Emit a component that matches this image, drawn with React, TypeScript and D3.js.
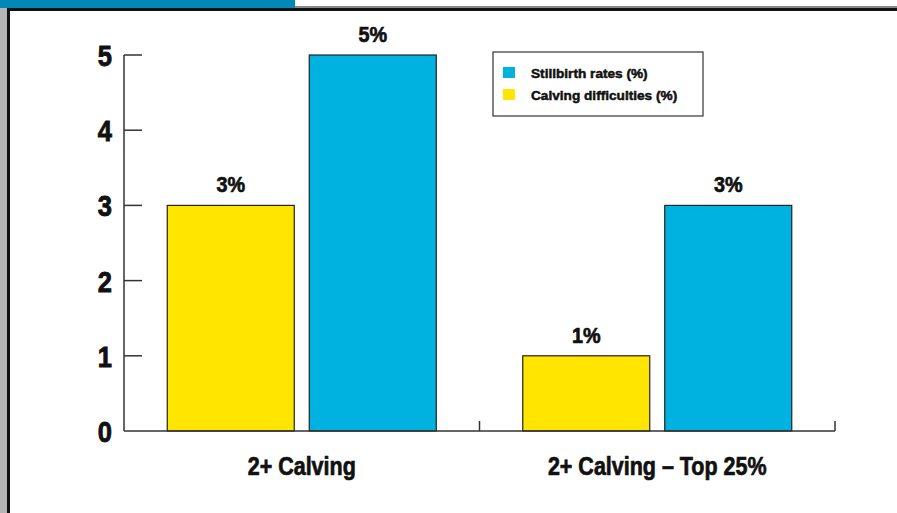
import React, { useRef, useEffect } from "react";
import * as d3 from "d3";

const categories = ["2+ Calving", "2+ Calving – Top 25%"];
const seriesNames = ["Calving difficulties (%)", "Stillbirth rates (%)"];
const calvingDifficulties = [3, 1];
const stillbirthRates = [5, 3];
const yTicks = [0, 1, 2, 3, 4, 5];
const legendOrder = ["Stillbirth rates (%)", "Calving difficulties (%)"];

const colors: Record<string, string> = {
  "Calving difficulties (%)": "#ffe500",
  "Stillbirth rates (%)": "#00b2e0",
};

const FONT = "'Liberation Sans', Arial, sans-serif";

const App: React.FC = () => {
  const width = 897;
  const height = 513;
  const svg = useRef<SVGSVGElement>(null);

  useEffect(() => {
    const s = d3.select(svg.current);
    s.selectAll("*").remove();
    s.attr("width", width).attr("height", height);

    // page frame: grey strip on the left, blue tab on top, black rules
    s.append("rect").attr("width", width).attr("height", height).attr("fill", "#fff");
    s.append("rect").attr("x", 0).attr("y", 0).attr("width", 7).attr("height", height).attr("fill", "#b5b5b5");
    s.append("rect").attr("x", 0).attr("y", 6).attr("width", width).attr("height", 2).attr("fill", "#8a8a8a");
    s.append("rect").attr("x", 0).attr("y", 0).attr("width", 295).attr("height", 8).attr("fill", "#0088b8");
    s.append("rect").attr("x", 7).attr("y", 8).attr("width", width - 7).attr("height", 3).attr("fill", "#111");
    s.append("rect").attr("x", 7).attr("y", 8).attr("width", 3).attr("height", height).attr("fill", "#111");

    const table = categories.map((c, i) => ({
      category: c,
      values: [
        { key: seriesNames[0], value: calvingDifficulties[i] },
        { key: seriesNames[1], value: stillbirthRates[i] },
      ],
    }));

    const x0 = d3.scaleBand<string>().domain(categories).range([124, 835]);
    const x1 = d3
      .scaleBand<string>()
      .domain(seriesNames)
      .range([0, x0.bandwidth()])
      .paddingInner(0.1056)
      .paddingOuter(0.3046);
    const y = d3.scaleLinear().domain([0, 5]).range([431, 55]);

    const g = s.append("g");

    // y axis with ticks pointing into the plot
    g.append("line")
      .attr("x1", 124).attr("x2", 124)
      .attr("y1", y(5)).attr("y2", y(0))
      .attr("stroke", "#333").attr("stroke-width", 1.5);
    g.selectAll("line.ytick")
      .data(yTicks.filter((t) => t > 0))
      .join("line")
      .attr("class", "ytick")
      .attr("x1", 124).attr("x2", 142)
      .attr("y1", (d) => y(d)).attr("y2", (d) => y(d))
      .attr("stroke", "#333").attr("stroke-width", 1.5);
    g.selectAll("text.ylab")
      .data(yTicks)
      .join("text")
      .attr("class", "ylab")
      .attr("transform", (d) => `translate(112,${y(d) + 11}) scale(0.85,1)`)
      .attr("text-anchor", "end")
      .attr("font-family", FONT)
      .attr("font-weight", "bold")
      .attr("font-size", 30)
      .attr("fill", "#111")
      .attr("stroke", "#111")
      .attr("stroke-width", 0.9)
      .text((d) => d);

    // bars
    const groups = g
      .selectAll("g.group")
      .data(table)
      .join("g")
      .attr("class", "group")
      .attr("transform", (d) => `translate(${x0(d.category)},0)`);

    groups
      .selectAll("rect")
      .data((d) => d.values)
      .join("rect")
      .attr("x", (d) => x1(d.key)!)
      .attr("y", (d) => y(d.value))
      .attr("width", x1.bandwidth())
      .attr("height", (d) => y(0) - y(d.value))
      .attr("fill", (d) => colors[d.key])
      .attr("stroke", "#222")
      .attr("stroke-width", 1.2);

    groups
      .selectAll("text")
      .data((d) => d.values)
      .join("text")
      .attr(
        "transform",
        (d) => `translate(${x1(d.key)! + x1.bandwidth() / 2},${y(d.value) - 13}) scale(0.9,1)`
      )
      .attr("text-anchor", "middle")
      .attr("font-family", FONT)
      .attr("font-weight", "bold")
      .attr("font-size", 22)
      .attr("fill", "#111")
      .attr("stroke", "#111")
      .attr("stroke-width", 0.7)
      .text((d) => `${d.value}%`);

    // x axis baseline and upward ticks at group boundaries
    g.append("line")
      .attr("x1", 124).attr("x2", 835)
      .attr("y1", y(0)).attr("y2", y(0))
      .attr("stroke", "#333").attr("stroke-width", 1.5);
    g.selectAll("line.xtick")
      .data(categories)
      .join("line")
      .attr("class", "xtick")
      .attr("x1", (d) => x0(d)! + x0.bandwidth())
      .attr("x2", (d) => x0(d)! + x0.bandwidth())
      .attr("y1", y(0)).attr("y2", y(0) - 10)
      .attr("stroke", "#333").attr("stroke-width", 1.5);
    g.selectAll("text.xlab")
      .data(categories)
      .join("text")
      .attr("class", "xlab")
      .attr("transform", (d) => `translate(${x0(d)! + x0.bandwidth() / 2},475) scale(0.86,1)`)
      .attr("text-anchor", "middle")
      .attr("font-family", FONT)
      .attr("font-weight", "bold")
      .attr("font-size", 25)
      .attr("fill", "#111")
      .attr("stroke", "#111")
      .attr("stroke-width", 0.7)
      .text((d) => d);

    // legend
    const lg = g.append("g").attr("transform", "translate(493,52)");
    lg.append("rect")
      .attr("width", 210).attr("height", 64)
      .attr("fill", "#fff").attr("stroke", "#333").attr("stroke-width", 1.2);
    const items = lg
      .selectAll("g.item")
      .data(legendOrder)
      .join("g")
      .attr("class", "item")
      .attr("transform", (d, i) => `translate(10,${15 + i * 22})`);
    items.append("rect")
      .attr("width", 12).attr("height", 11)
      .attr("fill", (d) => colors[d]);
    items.append("text")
      .attr("transform", "translate(28,11) scale(1.05,1)")
      .attr("font-family", FONT)
      .attr("font-weight", "bold")
      .attr("font-size", 13)
      .attr("fill", "#111")
      .attr("stroke", "#111")
      .attr("stroke-width", 0.5)
      .text((d) => d);
  }, []);

  return (
    <svg
      ref={svg}
      style={{ position: "absolute", left: 0, top: 0, display: "block" }}
    ></svg>
  );
};

export default App;
